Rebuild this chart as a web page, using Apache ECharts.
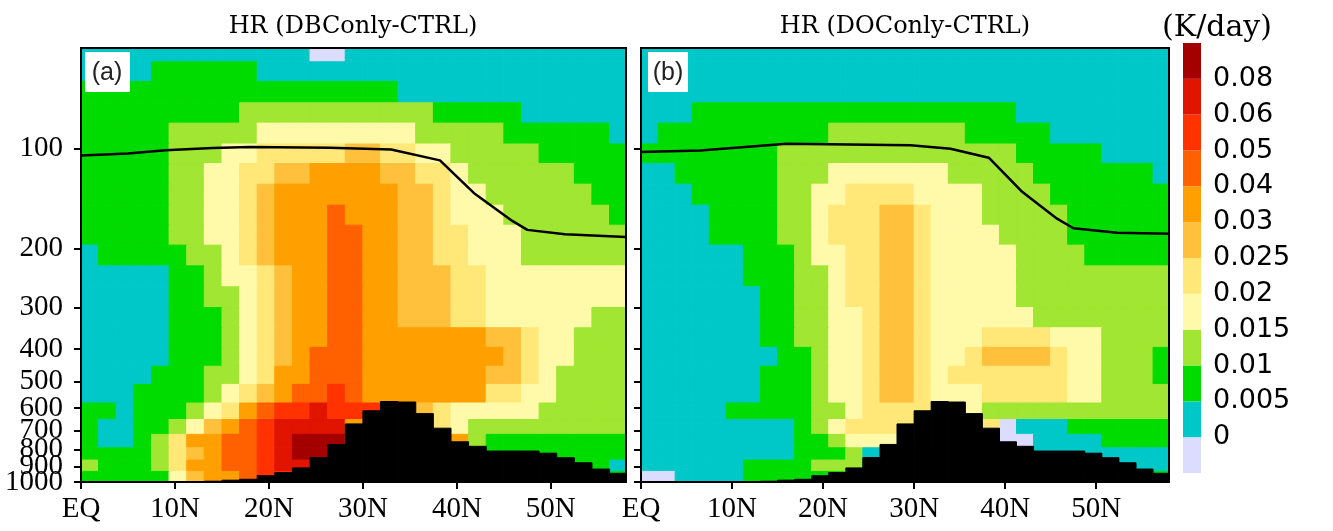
<!DOCTYPE html>
<html><head><meta charset="utf-8">
<script src="https://cdn.jsdelivr.net/npm/echarts@6/dist/echarts.min.js"></script>
<style>html,body{margin:0;padding:0;background:#fff;}#chart{width:1333px;height:531px;}</style>
</head><body><div id="chart"></div>
<script>
// ---------------- data ----------------
const latitudes = [0.94, 2.81, 4.69, 6.56, 8.44, 10.31, 12.19, 14.06, 15.94, 17.81, 19.69, 21.56, 23.44, 25.31, 27.19, 29.06, 30.94, 32.81, 34.69, 36.56, 38.44, 40.31, 42.19, 44.06, 45.94, 47.81, 49.69, 51.56, 53.44, 55.31, 57.19];
// pressure band edges (hPa), top to bottom; row i lies between edges i and i+1
const pressureEdges = [50, 55, 63, 73, 84, 97, 111, 128, 148, 170, 195, 225, 260, 300, 345, 395, 450, 510, 580, 650, 720, 790, 860, 930, 1000];
const xTickValues = [0, 10, 20, 30, 40, 50];
const pressureTicks = [100, 200, 300, 400, 500, 600, 700, 800, 900, 1000];
const levels = [0, 0.005, 0.01, 0.015, 0.02, 0.025, 0.03, 0.04, 0.05, 0.06, 0.08];
const levelLabels = ['0', '0.005', '0.01', '0.015', '0.02', '0.025', '0.03', '0.04', '0.05', '0.06', '0.08'];
const levelColors = ['#DCDCFF', '#00C8C8', '#00DC00', '#A0E632', '#FFFAAA', '#FFE878', '#FFC03C', '#FFA000', '#FF6000', '#FF3200', '#E11400', '#A50000'];

// heating rate (K/day), panel (a) DBConly-CTRL, rows top (50 hPa) to bottom (1000 hPa)
const hrDBConly = [
[.003,.003,.003,.003,.003,.003,.003,.003,.003,.003,.003,.003,.003,-.002,-.002,.003,.003,.003,.003,.003,.003,.003,.003,.003,.003,.003,.003,.003,.003,.003,.003],
[.003,.003,.003,.003,.008,.008,.008,.008,.008,.008,.003,.003,.003,.003,.003,.003,.003,.003,.003,.003,.003,.003,.003,.003,.003,.003,.003,.003,.003,.003,.003],
[.008,.008,.008,.008,.008,.008,.008,.008,.008,.008,.008,.008,.008,.008,.008,.008,.008,.008,.003,.003,.003,.003,.003,.003,.003,.003,.003,.003,.003,.003,.003],
[.008,.008,.008,.008,.008,.008,.008,.008,.008,.012,.012,.012,.012,.012,.012,.012,.012,.012,.012,.012,.008,.008,.008,.008,.008,.003,.003,.003,.003,.003,.003],
[.008,.008,.008,.008,.008,.012,.012,.012,.012,.012,.017,.017,.017,.017,.017,.017,.017,.017,.017,.012,.012,.012,.012,.012,.008,.008,.008,.008,.008,.008,.003],
[.008,.008,.008,.008,.008,.012,.012,.012,.017,.017,.022,.022,.022,.022,.022,.027,.027,.022,.022,.017,.017,.012,.012,.012,.012,.012,.008,.008,.008,.008,.008],
[.008,.008,.008,.008,.008,.012,.012,.017,.017,.022,.022,.027,.027,.035,.035,.035,.035,.027,.027,.022,.022,.017,.012,.012,.012,.012,.012,.012,.008,.008,.008],
[.008,.008,.008,.008,.008,.012,.012,.017,.017,.022,.027,.035,.035,.035,.035,.035,.035,.035,.027,.027,.022,.017,.017,.012,.012,.012,.012,.012,.012,.008,.008],
[.008,.008,.008,.008,.008,.012,.012,.017,.017,.022,.027,.035,.035,.035,.045,.035,.035,.035,.027,.027,.022,.017,.017,.017,.012,.012,.012,.012,.012,.012,.008],
[.008,.008,.008,.008,.008,.012,.012,.017,.017,.022,.027,.035,.035,.035,.045,.045,.035,.035,.027,.027,.022,.022,.017,.017,.017,.012,.012,.012,.012,.012,.012],
[.003,.008,.008,.008,.008,.008,.012,.012,.017,.022,.027,.035,.035,.035,.045,.045,.035,.035,.027,.027,.022,.022,.017,.017,.017,.012,.012,.012,.012,.012,.012],
[.003,.003,.003,.003,.003,.008,.008,.012,.017,.017,.022,.027,.035,.035,.045,.045,.035,.035,.027,.027,.027,.022,.022,.017,.017,.017,.017,.017,.017,.017,.017],
[.003,.003,.003,.003,.003,.008,.008,.012,.012,.017,.022,.027,.035,.035,.045,.045,.035,.035,.027,.027,.027,.022,.022,.017,.017,.017,.017,.017,.017,.017,.017],
[.003,.003,.003,.003,.003,.008,.008,.008,.012,.017,.022,.027,.035,.035,.045,.045,.035,.035,.027,.027,.027,.022,.022,.017,.017,.017,.017,.017,.017,.012,.012],
[.003,.003,.003,.003,.003,.008,.008,.008,.012,.017,.022,.027,.035,.035,.045,.045,.035,.035,.035,.035,.035,.035,.035,.027,.027,.022,.017,.017,.012,.012,.012],
[.003,.003,.003,.003,.003,.008,.008,.008,.012,.017,.022,.027,.035,.045,.045,.045,.035,.035,.035,.035,.035,.035,.035,.035,.027,.022,.017,.017,.012,.012,.012],
[.003,.003,.003,.003,.008,.008,.008,.012,.012,.017,.022,.035,.035,.045,.045,.045,.035,.035,.035,.035,.035,.035,.035,.027,.027,.022,.017,.012,.012,.012,.012],
[.003,.003,.003,.008,.008,.008,.008,.012,.017,.022,.027,.035,.045,.045,.055,.045,.035,.035,.035,.035,.035,.035,.035,.022,.022,.017,.017,.012,.012,.012,.012],
[.008,.008,.003,.008,.008,.008,.012,.017,.022,.035,.045,.055,.055,.07,.055,.055,.055,.035,.035,.027,.022,.017,.017,.017,.017,.017,.012,.012,.012,.012,.012],
[.008,.003,.003,.008,.008,.012,.017,.027,.035,.045,.055,.07,.07,.07,.07,.035,.035,.035,.035,.035,.022,.017,.012,.012,.012,.012,.012,.012,.012,.012,.012],
[.008,.003,.003,.008,.012,.022,.035,.035,.045,.045,.055,.07,.09,.09,.09,.035,.035,.035,.035,.035,.035,.035,.012,.008,.008,.008,.008,.008,.008,.008,.008],
[.008,.008,.008,.008,.012,.022,.027,.035,.045,.045,.055,.07,.09,.09,.008,.008,.008,.008,.008,.008,.008,.008,.008,.008,.008,.008,.008,.008,.008,.008,.008],
[.012,.008,.008,.008,.012,.022,.035,.035,.045,.045,.055,.07,.07,.008,.008,.008,.008,.008,.008,.008,.008,.008,.008,.008,.008,.008,.008,.008,.008,.008,.003],
[.008,.008,.008,.008,.008,.017,.027,.035,.035,.045,.055,.055,.008,.008,.008,.008,.008,.008,.008,.008,.008,.008,.008,.008,.008,.008,.008,.008,.008,.008,.008]
];

// heating rate (K/day), panel (b) DOConly-CTRL, rows top (50 hPa) to bottom (1000 hPa)
const hrDOConly = [
[.003,.003,.003,.003,.003,.003,.003,.003,.003,.003,.003,.003,.003,.003,.003,.003,.003,.003,.003,.003,.003,.003,.003,.003,.003,.003,.003,.003,.003,.003,.003],
[.003,.003,.003,.003,.003,.003,.003,.003,.003,.003,.003,.003,.003,.003,.003,.003,.003,.003,.003,.003,.003,.003,.003,.003,.003,.003,.003,.003,.003,.003,.003],
[.003,.003,.003,.003,.003,.003,.003,.003,.003,.003,.003,.003,.003,.003,.003,.003,.003,.003,.003,.003,.003,.003,.003,.003,.003,.003,.003,.003,.003,.003,.003],
[.003,.003,.003,.008,.008,.008,.008,.008,.008,.008,.008,.008,.008,.008,.008,.008,.008,.008,.008,.008,.008,.008,.003,.003,.003,.003,.003,.003,.003,.003,.003],
[.003,.008,.008,.008,.008,.008,.008,.008,.008,.008,.008,.012,.012,.012,.012,.012,.012,.012,.012,.008,.008,.008,.008,.008,.003,.003,.003,.003,.003,.003,.003],
[.008,.008,.008,.008,.008,.008,.008,.008,.012,.012,.012,.012,.012,.012,.012,.012,.012,.012,.012,.012,.012,.012,.008,.008,.008,.008,.008,.003,.003,.003,.003],
[.003,.003,.008,.008,.008,.008,.008,.008,.012,.012,.012,.017,.017,.017,.017,.017,.017,.017,.012,.012,.012,.012,.012,.008,.008,.008,.008,.008,.008,.008,.003],
[.003,.003,.003,.008,.008,.008,.008,.008,.012,.012,.017,.017,.022,.022,.022,.022,.017,.017,.017,.017,.012,.012,.012,.012,.008,.008,.008,.008,.008,.008,.008],
[.003,.003,.003,.003,.008,.008,.008,.008,.012,.012,.017,.022,.022,.022,.027,.027,.022,.017,.017,.017,.012,.012,.012,.012,.012,.008,.008,.008,.008,.008,.008],
[.003,.003,.003,.003,.008,.008,.008,.008,.012,.012,.017,.022,.022,.022,.027,.027,.022,.017,.017,.017,.017,.012,.012,.012,.012,.008,.008,.008,.008,.008,.008],
[.003,.003,.003,.003,.003,.003,.008,.008,.008,.012,.017,.017,.022,.022,.027,.027,.022,.017,.017,.017,.017,.017,.012,.012,.012,.012,.008,.008,.008,.008,.008],
[.003,.003,.003,.003,.003,.003,.008,.008,.008,.012,.012,.017,.022,.022,.027,.027,.022,.017,.017,.017,.017,.017,.012,.012,.012,.012,.012,.012,.012,.012,.012],
[.003,.003,.003,.003,.003,.003,.003,.008,.008,.012,.012,.017,.022,.022,.027,.027,.022,.017,.017,.017,.017,.017,.012,.012,.012,.012,.012,.012,.012,.012,.012],
[.003,.003,.003,.003,.003,.003,.003,.008,.008,.012,.012,.017,.017,.022,.027,.027,.022,.017,.017,.017,.017,.017,.017,.012,.012,.012,.012,.012,.012,.012,.012],
[.003,.003,.003,.003,.003,.003,.003,.008,.008,.012,.012,.017,.017,.022,.027,.027,.022,.017,.017,.017,.022,.022,.022,.022,.017,.017,.017,.012,.012,.012,.012],
[.003,.003,.003,.003,.003,.003,.003,.003,.008,.008,.012,.017,.017,.022,.027,.027,.022,.017,.017,.022,.027,.027,.027,.027,.022,.017,.017,.012,.012,.012,.008],
[.003,.003,.003,.003,.003,.003,.003,.008,.008,.008,.012,.017,.017,.022,.027,.027,.022,.017,.022,.022,.022,.022,.022,.022,.022,.017,.017,.012,.012,.012,.008],
[.003,.003,.003,.003,.003,.003,.003,.008,.008,.008,.012,.017,.017,.022,.027,.027,.022,.017,.017,.017,.022,.022,.022,.022,.022,.017,.017,.012,.012,.012,.012],
[.003,.003,.003,.003,.003,.008,.008,.008,.008,.008,.012,.012,.017,.022,.022,.022,.022,.022,.022,.017,.012,.012,.012,.012,.012,.012,.012,.012,.012,.012,.012],
[.003,.003,.003,.003,.003,.003,.003,.003,.003,.008,.012,.017,.022,.022,.022,.022,.022,.022,.022,.022,.022,-.002,.003,.003,.003,.008,.008,.008,.008,.008,.008],
[.003,.003,.003,.003,.003,.003,.003,.003,.003,.008,.008,.012,.017,.017,.017,.017,.017,.017,.017,.017,.017,-.002,-.002,.003,.003,.003,.003,.008,.008,.008,.008],
[.003,.003,.003,.003,.003,.003,.003,.003,.003,.008,.008,.008,.012,.003,.003,.003,.003,.003,.003,.003,.003,.003,.003,.003,.003,.003,.003,.003,.003,.003,.003],
[.003,.003,.003,.003,.003,.003,.008,.008,.008,.008,.012,.012,.012,.003,.003,.003,.003,.003,.003,.003,.003,.003,.003,.003,.003,.003,.003,.003,.003,.003,.003],
[-.002,-.002,.003,.003,.003,.003,.008,.008,.008,.008,.008,.008,.008,.008,.008,.008,.008,.008,.008,.008,.008,.008,.008,.008,.008,.008,.008,.008,.008,.008,.008]
];

// model surface pressure (hPa) per latitude column (topography)
const surfacePressure = [1000, 1000, 1000, 1000, 1000, 1000, 998, 995, 988, 982, 958, 937, 908, 845, 772, 670, 612, 574, 576, 624, 690, 758, 782, 808, 808, 808, 820, 846, 876, 915, 942];

// tropopause (hPa)
const tropoLatA = [0, 5, 9, 14, 18, 26.5, 33, 38.2, 41.8, 45.9, 47.5, 51.5, 58];
const tropoPresA = [105, 103.5, 101.3, 99.7, 99, 99.5, 100.7, 108.6, 136, 165, 175.5, 181, 184.5];
const tropoLatB = [0, 6.5, 16, 29.6, 34, 38.2, 41.9, 45.7, 47.5, 52.3, 58];
const tropoPresB = [102.6, 101.4, 96.8, 97.9, 100.2, 106.6, 135.2, 162.4, 173.5, 179, 180.2];

// ---------------- drawing ----------------
const CELL_HALF = 0.9375;
const P_BOTTOM = 1000;
const P_MIN = 50, P_MAX = 1000.5;
const GRIDS = [
  {left: 81, top: 48, width: 545, height: 434},
  {left: 641, top: 48, width: 528, height: 434}
];
function colorFor(v) { let i = 0; while (i < levels.length && v >= levels[i]) i++; return levelColors[i]; }
function cellData(field) {
  const out = [];
  field.forEach((row, i) => row.forEach((v, k) => out.push([latitudes[k], pressureEdges[i], v, pressureEdges[i + 1]])));
  return out;
}
function renderCell(params, api) {
  const lat = api.value(0), pTop = api.value(1), v = api.value(2), pBot = api.value(3);
  const a = api.coord([lat - CELL_HALF, pBot]);
  const b = api.coord([lat + CELL_HALF, pTop]);
  const c = colorFor(v);
  return {type: 'rect', shape: {x: a[0], y: b[1], width: b[0] - a[0], height: a[1] - b[1]}, style: {fill: c, stroke: c, lineWidth: 1}};
}
function renderTerrain(params, api) {
  const lat = api.value(0), ps = api.value(1);
  const a = api.coord([lat - CELL_HALF, P_BOTTOM]);
  const b = api.coord([lat + CELL_HALF, ps]);
  return {type: 'rect', shape: {x: a[0], y: b[1], width: b[0] - a[0], height: a[1] - b[1] + 1}, style: {fill: '#000', stroke: '#000', lineWidth: 1}};
}
function renderBar(params, api) {
  const i = api.value(0);
  const a = api.coord([0, i]);
  const b = api.coord([1, i + 1]);
  return {type: 'rect', shape: {x: a[0], y: b[1], width: b[0] - a[0], height: a[1] - b[1]}, style: {fill: levelColors[i]}};
}

const tickFont = {fontFamily: 'Liberation Serif', fontSize: 29, color: '#000'};
function xAxisFor(g) {
  return {
    gridIndex: g, type: 'value', min: 0, max: 58,
    axisLine: {show: true, onZero: false, lineStyle: {color: '#000', width: 2}},
    axisTick: {show: true, inside: false, length: 7, customValues: xTickValues, lineStyle: {color: '#000', width: 2}},
    axisLabel: Object.assign({show: true, margin: 13, customValues: xTickValues, showMinLabel: true, formatter: v => v === 0 ? 'EQ' : v + 'N'}, tickFont),
    splitLine: {show: false}
  };
}
function yAxisFor(g) {
  return {
    gridIndex: g, type: 'log', logBase: 10, min: P_MIN, max: P_MAX, inverse: true,
    axisLine: {show: true, onZero: false, lineStyle: {color: '#000', width: 2}},
    axisTick: {show: true, inside: false, length: 7, customValues: pressureTicks, lineStyle: {color: '#000', width: 2}},
    axisLabel: {show: false},
    splitLine: {show: false}, minorTick: {show: false}
  };
}
// one label-only axis per pressure tick, so the crowded near-surface labels (as in the original) are all kept
function labelAxisFor(p) {
  return {
    gridIndex: 0, type: 'log', logBase: 10, min: P_MIN, max: P_MAX, inverse: true, position: 'left', offset: 0,
    axisLine: {show: false}, axisTick: {show: false}, splitLine: {show: false}, minorTick: {show: false},
    axisLabel: Object.assign({show: true, margin: 18, customValues: [p], showMaxLabel: true, showMinLabel: true, formatter: v => String(Math.round(v))}, tickFont)
  };
}

const option = {
  animation: false,
  backgroundColor: '#fff',
  grid: [
    Object.assign({}, GRIDS[0]),
    Object.assign({}, GRIDS[1]),
    {left: 1183, top: 43, width: 18, height: 430}
  ],
  xAxis: [xAxisFor(0), xAxisFor(1), {gridIndex: 2, type: 'value', min: 0, max: 1, show: false}],
  yAxis: [yAxisFor(0), yAxisFor(1), {
    gridIndex: 2, type: 'value', min: 0, max: 12, position: 'right',
    axisLine: {show: false}, axisTick: {show: false}, splitLine: {show: false},
    axisLabel: {show: true, margin: 12, customValues: [1, 2, 3, 4, 5, 6, 7, 8, 9, 10, 11], formatter: v => levelLabels[v - 1], fontFamily: 'DejaVu Sans', fontSize: 27, color: '#000'}
  }].concat(pressureTicks.map(labelAxisFor)),
  series: [
    {type: 'custom', xAxisIndex: 0, yAxisIndex: 0, renderItem: renderCell, data: cellData(hrDBConly), encode: {x: 0, y: 1}, clip: true, z: 1, silent: true},
    {type: 'custom', xAxisIndex: 1, yAxisIndex: 1, renderItem: renderCell, data: cellData(hrDOConly), encode: {x: 0, y: 1}, clip: true, z: 1, silent: true},
    {type: 'custom', xAxisIndex: 0, yAxisIndex: 0, renderItem: renderTerrain, data: latitudes.map((l, k) => [l, surfacePressure[k]]), encode: {x: 0, y: 1}, clip: true, z: 3, silent: true},
    {type: 'custom', xAxisIndex: 1, yAxisIndex: 1, renderItem: renderTerrain, data: latitudes.map((l, k) => [l, surfacePressure[k]]), encode: {x: 0, y: 1}, clip: true, z: 3, silent: true},
    {type: 'line', xAxisIndex: 0, yAxisIndex: 0, data: tropoLatA.map((l, i) => [l, tropoPresA[i]]), symbol: 'none', lineStyle: {color: '#000', width: 2.5}, z: 4, silent: true},
    {type: 'line', xAxisIndex: 1, yAxisIndex: 1, data: tropoLatB.map((l, i) => [l, tropoPresB[i]]), symbol: 'none', lineStyle: {color: '#000', width: 2.5}, z: 4, silent: true},
    {type: 'custom', xAxisIndex: 2, yAxisIndex: 2, renderItem: renderBar, data: levelColors.map((c, i) => [i]), encode: {y: 0}, z: 1, silent: true}
  ],
  graphic: [
    {type: 'rect', z: 100, shape: {x: GRIDS[0].left, y: GRIDS[0].top, width: GRIDS[0].width, height: GRIDS[0].height}, style: {fill: 'none', stroke: '#000', lineWidth: 2}},
    {type: 'rect', z: 100, shape: {x: GRIDS[1].left, y: GRIDS[1].top, width: GRIDS[1].width, height: GRIDS[1].height}, style: {fill: 'none', stroke: '#000', lineWidth: 2}},
    {type: 'rect', z: 100, shape: {x: 85, y: 52, width: 45, height: 40}, style: {fill: '#fff'}},
    {type: 'text', z: 101, x: 107, y: 73, style: {text: '(a)', textAlign: 'center', textVerticalAlign: 'middle', font: '25px "Liberation Sans"', fill: '#222'}},
    {type: 'rect', z: 100, shape: {x: 648, y: 52, width: 40, height: 40}, style: {fill: '#fff'}},
    {type: 'text', z: 101, x: 668, y: 73, style: {text: '(b)', textAlign: 'center', textVerticalAlign: 'middle', font: '25px "Liberation Sans"', fill: '#222'}},
    {type: 'text', z: 101, x: 353, y: 27, style: {text: 'HR (DBConly-CTRL)', textAlign: 'center', textVerticalAlign: 'middle', font: '24px "DejaVu Serif"', fill: '#000'}},
    {type: 'text', z: 101, x: 905, y: 27, style: {text: 'HR (DOConly-CTRL)', textAlign: 'center', textVerticalAlign: 'middle', font: '24px "DejaVu Serif"', fill: '#000'}},
    {type: 'text', z: 101, x: 1217, y: 28, style: {text: '(K/day)', textAlign: 'center', textVerticalAlign: 'middle', font: '30px "DejaVu Serif"', fill: '#000'}}
  ]
};
const chart = echarts.init(document.getElementById('chart'), null, {renderer: 'canvas'});
chart.setOption(option);
</script>
</body></html>
